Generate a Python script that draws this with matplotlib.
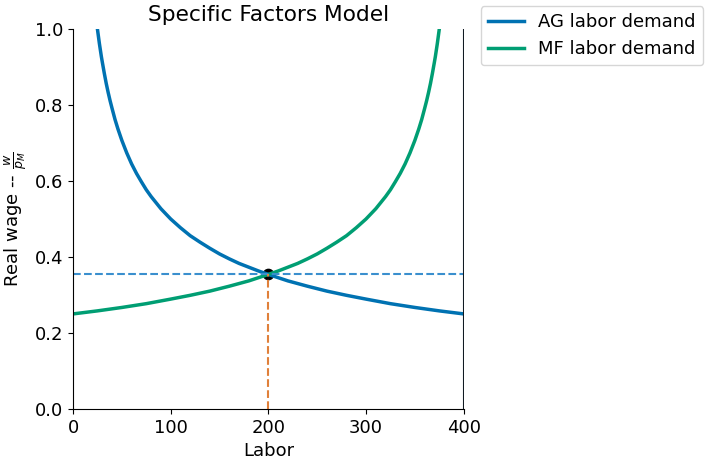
"""Specific factors model: labor demand in AG and MF sectors"""

import matplotlib.pyplot as plt

# labor and real wage values
ag_labor = [25, 26, 27, 28, 29, 30, 32, 34, 36, 38, 40, 43, 46, 50, 55,
            60, 65, 70, 75, 80, 90, 100, 110, 120, 130, 140, 150, 160,
            170, 180, 190, 200, 220, 240, 260, 280, 300, 325, 350, 375, 400]
ag_wage = [1.0, 0.981, 0.962, 0.945, 0.928, 0.913, 0.884, 0.857, 0.833,
           0.811, 0.791, 0.762, 0.737, 0.707, 0.674, 0.645, 0.62, 0.598,
           0.577, 0.559, 0.527, 0.5, 0.477, 0.456, 0.439, 0.423, 0.408,
           0.395, 0.383, 0.373, 0.363, 0.354, 0.337, 0.323, 0.31, 0.299,
           0.289, 0.277, 0.267, 0.258, 0.25]

mf_labor = [0, 25, 50, 75, 100, 120, 140, 160, 180, 200, 210, 220, 230,
            240, 250, 260, 270, 280, 290, 300, 310, 320, 325, 330, 335,
            340, 345, 350, 354, 357, 360, 362, 364, 366, 368, 370, 371,
            372, 373, 374, 375]
mf_wage = [0.25, 0.258, 0.267, 0.277, 0.289, 0.299, 0.31, 0.323, 0.337,
           0.354, 0.363, 0.373, 0.383, 0.395, 0.408, 0.423, 0.439, 0.456,
           0.477, 0.5, 0.527, 0.559, 0.577, 0.598, 0.62, 0.645, 0.674,
           0.707, 0.737, 0.762, 0.791, 0.811, 0.833, 0.857, 0.884, 0.913,
           0.928, 0.945, 0.962, 0.981, 1.0]

eq_labor = 200
eq_wage = 0.354
total_labor = 400


def graph():
    fig = plt.figure(figsize=(7.09, 4.63), dpi=100)
    ax = fig.add_axes([0.103, 0.117, 0.551, 0.82])

    ax.plot(ag_labor, ag_wage, color='#0072B2', lw=2.5,
            label='AG labor demand')
    ax.plot(mf_labor, mf_wage, color='#009E73', lw=2.5,
            label='MF labor demand')

    # equilibrium point and guide lines
    ax.scatter([eq_labor], [eq_wage], s=55, color='black', zorder=1)
    ax.axhline(eq_wage, color='#3a8fce', ls='--', lw=1.5)
    ax.vlines(eq_labor, 0, eq_wage, color='#e0803a', ls='--', lw=1.5)
    ax.axvline(total_labor, color='#111a22', lw=1.5)

    ax.set_xlim(0, 400)
    ax.set_ylim(0, 1.0)
    ax.set_xticks([0, 100, 200, 300, 400])
    ax.set_yticks([0, 0.2, 0.4, 0.6, 0.8, 1.0])
    ax.tick_params(labelsize=13)
    ax.spines['top'].set_visible(False)
    ax.spines['right'].set_visible(False)

    ax.set_title('Specific Factors Model', fontsize=15.6)
    ax.set_xlabel('Labor', fontsize=13)
    ax.set_ylabel(r'Real wage -- $\frac{w}{p_M}$', fontsize=13)

    fig.legend(loc='upper left', bbox_to_anchor=(0.678, 0.987),
               borderaxespad=0, fontsize=13)

    fig.savefig('out.png')


def main():
    graph()


if __name__ == "__main__":
    main()
